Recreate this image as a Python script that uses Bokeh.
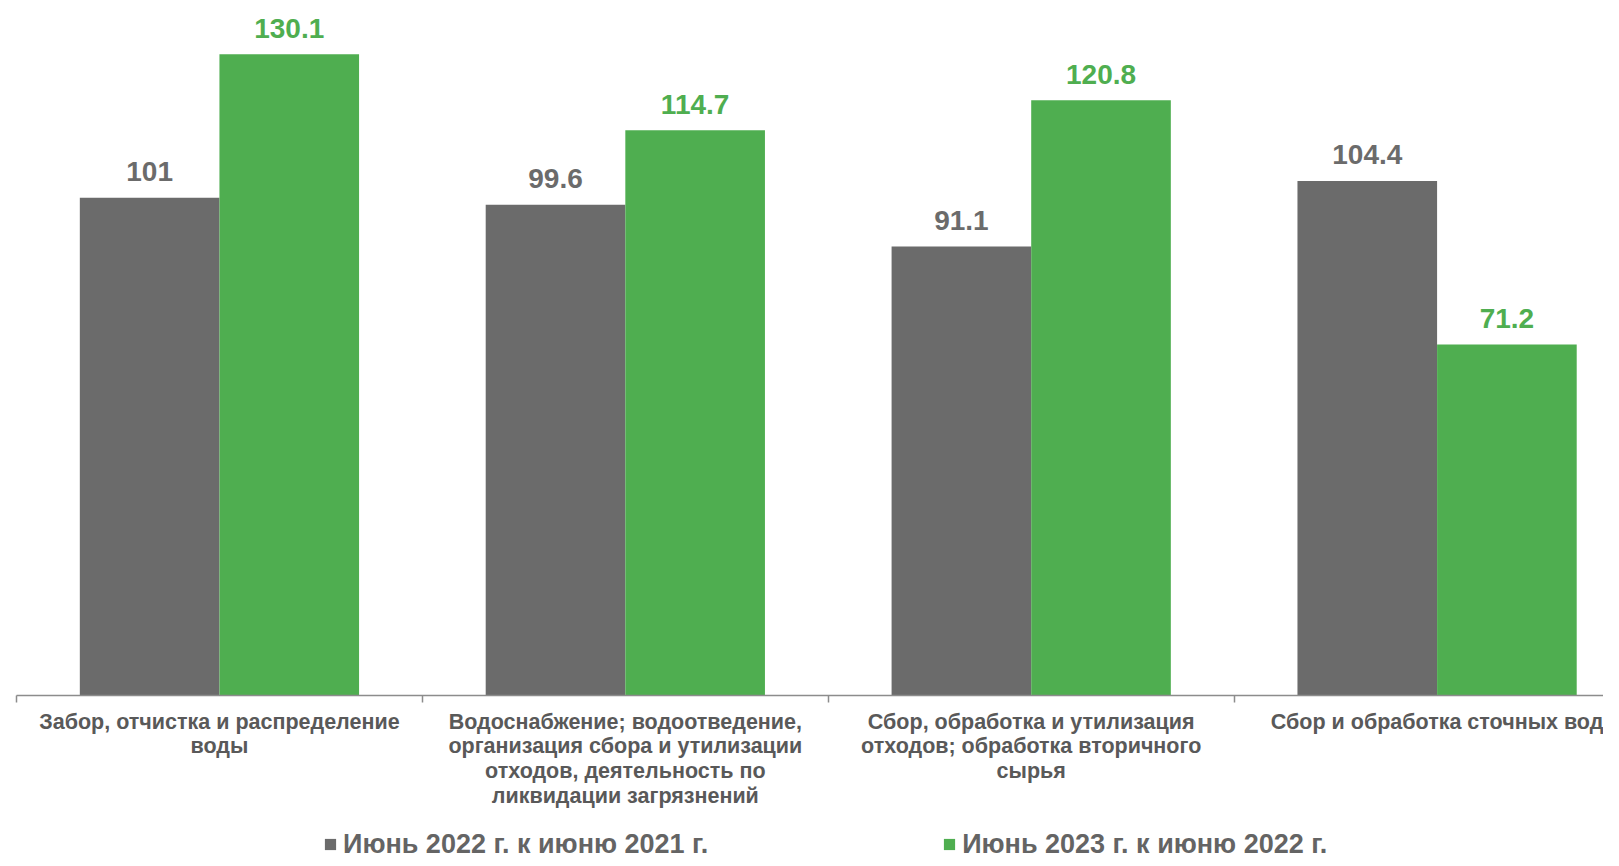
from bokeh.plotting import figure
from bokeh.layouts import column
from bokeh.models import ColumnDataSource, FixedTicker, Legend, LegendItem, Range1d
from bokeh.core.properties import value
from bokeh.embed import file_html
from bokeh.resources import INLINE

categories = [
    "Забор, отчистка и распределение\nводы",
    "Водоснабжение; водоотведение,\nорганизация сбора и утилизации\nотходов, деятельность по\nликвидации загрязнений",
    "Сбор, обработка и утилизация\nотходов; обработка вторичного\nсырья",
    "Сбор и обработка сточных вод",
]
series_2022 = [101, 99.6, 91.1, 104.4]
series_2023 = [130.1, 114.7, 120.8, 71.2]
labels_2022 = ["101", "99.6", "91.1", "104.4"]
labels_2023 = ["130.1", "114.7", "120.8", "71.2"]
legend_names = ["Июнь 2022 г. к июню 2021 г.", "Июнь 2023 г. к июню 2022 г."]

GRAY = "#6b6b6b"
GREEN = "#4fae50"
FONT = "Liberation Sans"

centers = [i + 0.5 for i in range(len(categories))]
bw = 0.344
src1 = ColumnDataSource(dict(x=[c - bw / 2 for c in centers], top=series_2022, lab=labels_2022))
src2 = ColumnDataSource(dict(x=[c + bw / 2 for c in centers], top=series_2023, lab=labels_2023))

p = figure(width=1603, height=820, output_backend="svg", toolbar_location=None,
           x_range=Range1d(0, 3.91), y_range=Range1d(0, 139.4), y_axis_location=None,
           min_border_left=16, min_border_right=0, min_border_top=8, min_border_bottom=125)
p.outline_line_color = None
p.grid.visible = False

p.vbar(x="x", top="top", width=bw, source=src1, fill_color=GRAY, line_color=None)
p.vbar(x="x", top="top", width=bw, source=src2, fill_color=GREEN, line_color=None)

p.text(x="x", y="top", text="lab", source=src1, text_align="center", text_baseline="alphabetic",
       y_offset=-26, text_font=value(FONT), text_font_style="bold", text_font_size="28px", text_color=GRAY)
p.text(x="x", y="top", text="lab", source=src2, text_align="center", text_baseline="alphabetic",
       y_offset=-26, text_font=value(FONT), text_font_style="bold", text_font_size="28px", text_color=GREEN)

ax = p.xaxis[0]
ax.ticker = FixedTicker(ticks=centers, minor_ticks=[0, 1, 2, 3, 4])
ax.major_label_overrides = {c: lab for c, lab in zip(centers, categories)}
ax.major_tick_line_color = None
ax.major_tick_out = 0
ax.major_tick_in = 0
ax.minor_tick_out = 7
ax.minor_tick_in = 0
ax.minor_tick_line_color = "#8c8c8c"
ax.minor_tick_line_width = 1.5
ax.axis_line_color = "#8c8c8c"
ax.axis_line_width = 1.5
ax.major_label_standoff = 7
ax.major_label_text_font = FONT
ax.major_label_text_font_style = "bold"
ax.major_label_text_font_size = "21.5px"
ax.major_label_text_color = "#595959"
ax.major_label_text_line_height = 1.03

# legend strip (the same series, drawn outside its visible range, only to key the legend)
p2 = figure(width=1603, height=38, output_backend="svg", toolbar_location=None,
            x_range=Range1d(100, 101), y_range=Range1d(1000, 1001),
            x_axis_location=None, y_axis_location=None, min_border=0)
p2.outline_line_color = None
p2.grid.visible = False
g1 = p2.vbar(x="x", top="top", width=bw, source=src1, fill_color=GRAY, line_color=None)
g2 = p2.vbar(x="x", top="top", width=bw, source=src2, fill_color=GREEN, line_color=None)

lg = Legend(items=[LegendItem(label=legend_names[0], renderers=[g1]),
                   LegendItem(label=legend_names[1], renderers=[g2])],
            orientation="horizontal", location=(307, -1.5), spacing=234,
            padding=0, margin=0, border_line_alpha=0, background_fill_alpha=0,
            glyph_width=14, glyph_height=14, label_standoff=6, label_height=28,
            label_text_font=FONT, label_text_font_style="bold", label_text_font_size="27px",
            label_text_color="#646464", label_text_baseline="middle")
p2.add_layout(lg, "center")

layout = column(p, p2, spacing=0)
open("out.html", "w").write(file_html(layout, INLINE))
